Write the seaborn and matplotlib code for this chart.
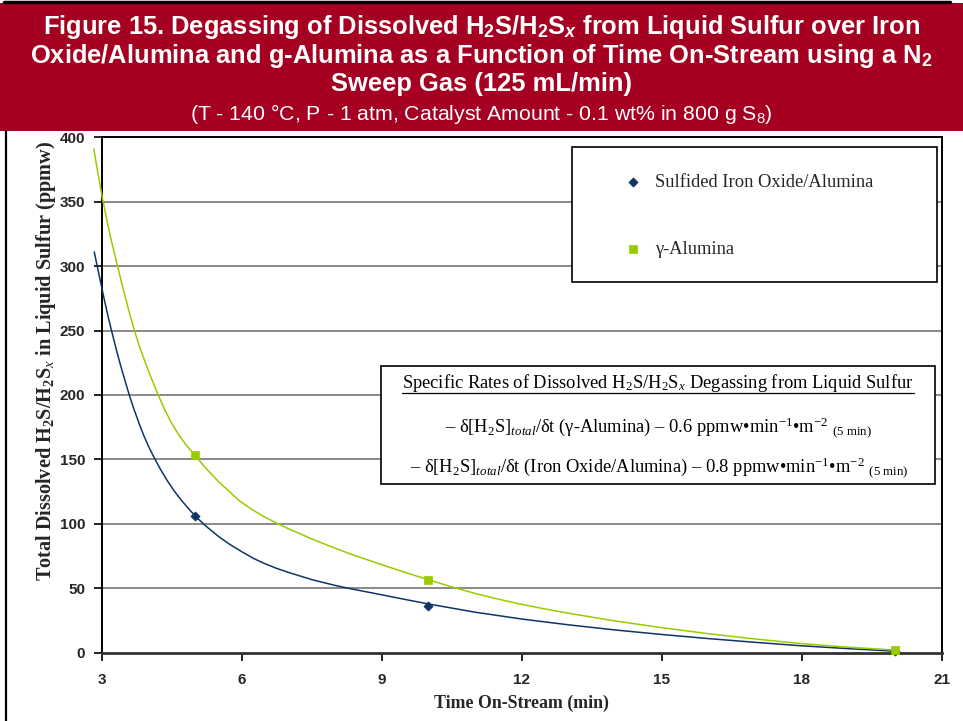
import matplotlib
matplotlib.use("Agg")
import matplotlib.pyplot as plt
import seaborn as sns
import pandas as pd
import numpy as np
from matplotlib.patches import Rectangle
from matplotlib.lines import Line2D

# ---------------- data ----------------
time_min = [5, 10, 20]
iron_ppmw = [106, 36, 1]
gamma_ppmw = [153, 56, 2]

# trend curves
gamma_curve_x = [2.83, 2.92, 3.02, 3.1, 3.2, 3.34, 3.45, 3.57, 3.70, 3.82, 3.95, 4.08, 4.21,
                 4.35, 4.5, 4.65, 4.8, 5.0, 5.25, 5.5, 5.75, 5.96, 6.2, 6.45, 6.69, 7.0,
                 7.5, 8.0, 8.32, 9.0, 9.5, 10.0, 10.57, 11.0, 11.5, 11.96, 12.5, 13.0,
                 14.0, 15.0, 16.0, 17.0, 18.0, 19.0, 20.0]
gamma_curve_y = [391, 372, 352, 337.6, 320.8, 300, 283.7, 266.9, 250, 236.5, 223.5, 211.5, 200,
                 188.5, 178, 169, 161.5, 153, 142.3, 132.8, 124.5, 117.5, 111.5, 106, 101.5, 96.1,
                 88.2, 81, 76.6, 68.2, 62.2, 56.5, 50.2, 45.9, 41.4, 37.7, 33.8, 30.5,
                 24.5, 19.3, 14.6, 10.5, 6.9, 4.1, 1.9]
iron_curve_x = [2.84, 2.95, 3.05, 3.13, 3.21, 3.3, 3.4, 3.5, 3.59, 3.7, 3.8, 3.9, 4.0, 4.1,
                4.25, 4.4, 4.55, 4.7, 4.85, 5.0, 5.25, 5.5, 5.75, 6.0, 6.25, 6.5, 6.75, 7.0,
                7.5, 8.0, 8.32, 9.0, 9.5, 10.0, 11.0, 12.0, 13.0, 14.0, 15.0, 16.0, 17.0,
                18.0, 19.0, 20.0]
iron_curve_y = [311, 292, 275, 262, 250, 237, 223.5, 211, 200, 188, 178, 168.6, 160.3, 153,
                142.8, 133.7, 125.6, 118.5, 112.2, 106, 97.6, 90.2, 83.8, 78.3, 73.1, 68.9, 65.3, 62.2,
                56.6, 52.1, 49.6, 44.8, 41.2, 37.7, 31.3, 26, 21.5, 17.5, 14, 10.8, 7.9,
                5.2, 3.0, 1.0]

x_ticks = [3, 6, 9, 12, 15, 18, 21]
y_ticks = [0, 50, 100, 150, 200, 250, 300, 350, 400]

labels = ["Sulfided Iron Oxide/Alumina", "\u03b3-Alumina"]

NAVY = "#0F3466"
GREEN = "#99CC00"
RED = "#A50021"

# ---------------- style ----------------
sns.set_theme(style="white")
plt.rcParams.update({
    "font.family": ["Liberation Sans", "DejaVu Sans"],
    "mathtext.fontset": "custom",
    "mathtext.rm": "Liberation Serif",
    "mathtext.it": "Liberation Serif:italic",
    "mathtext.bf": "Liberation Sans:bold",
    "mathtext.bfit": "Liberation Sans:italic:bold",
    "mathtext.sf": "Liberation Sans",
    "mathtext.cal": "Liberation Serif:bold",
})

W, H = 963, 721
fig = plt.figure(figsize=(W / 100, H / 100), dpi=100)
fig.patch.set_facecolor("white")


def fx(px):
    return px / W


def fy(py):
    return 1 - py / H


# outer chart frame + title band
fig.add_artist(Line2D([fx(6), fx(6)], [fy(131), fy(721)], color="black", lw=1.6,
                      transform=fig.transFigure))
fig.add_artist(Rectangle((0, fy(131)), 1, fy(3) - fy(131), transform=fig.transFigure,
                         facecolor=RED, edgecolor="none", zorder=0))
fig.add_artist(Line2D([fx(4), fx(950)], [fy(2), fy(2)], color="black", lw=2.5,
                      transform=fig.transFigure))

title_kw = dict(ha="center", va="center", color="white", fontsize=18.4,
                fontweight="bold", family="Liberation Sans")
fig.text(0.5, fy(27), r"Figure 15. Degassing of Dissolved H$_\mathbf{2}$S/H$_\mathbf{2}$S$_\mathbfit{x}$ from Liquid Sulfur over Iron", **title_kw)
fig.text(0.5, fy(56), r"Oxide/Alumina and g-Alumina as a Function of Time On-Stream using a N$_\mathbf{2}$", **title_kw)
fig.text(0.5, fy(84), "Sweep Gas (125 mL/min)", **title_kw)
fig.text(0.5, fy(114), r"(T - 140 °C, P - 1 atm, Catalyst Amount - 0.1 wt% in 800 g S$_\mathsf{8}$)",
         ha="center", va="center", color="white", fontsize=15.3, family="Liberation Sans")

# ---------------- axes ----------------
ax = fig.add_axes([fx(101.7), fy(652.5), (941.7 - 101.7) / W, (652.5 - 137.3) / H])
ax.set_facecolor("white")

for yv in y_ticks[1:-1]:
    ax.axhline(yv, color="#808080", lw=1.3, zorder=1)

sns.lineplot(x=iron_curve_x, y=iron_curve_y, ax=ax, color=NAVY, lw=1.1,
             sort=False, estimator=None, zorder=3)
sns.lineplot(x=gamma_curve_x, y=gamma_curve_y, ax=ax, color=GREEN, lw=1.1,
             sort=False, estimator=None, zorder=3)
for ln in ax.lines:
    ln.set_clip_on(False)

sns.scatterplot(x=time_min, y=iron_ppmw, ax=ax, marker="D", s=22, color=NAVY,
                edgecolor=NAVY, linewidth=0.5, label=labels[0], zorder=5, clip_on=False)
sns.scatterplot(x=time_min, y=gamma_ppmw, ax=ax, marker="s", s=30, color=GREEN,
                edgecolor=GREEN, linewidth=0.5, label=labels[1], zorder=6, clip_on=False)

ax.set_xlim(3, 21)
ax.set_ylim(0, 400)
ax.set_xticks(x_ticks)
ax.set_yticks(y_ticks)
ax.tick_params(axis="both", which="major", direction="out", length=6, width=1.2,
               color="black", labelsize=11, bottom=True, left=True)
ax.tick_params(axis="x", pad=9)
ax.tick_params(axis="y", pad=6)
for lab in ax.get_xticklabels() + ax.get_yticklabels():
    lab.set_fontweight("bold")

for s in ["top", "right", "left"]:
    ax.spines[s].set_color("black")
    ax.spines[s].set_linewidth(1.4)
ax.spines["bottom"].set_color("#333333")
ax.spines["bottom"].set_linewidth(2.0)

ax.set_xlabel("Time On-Stream (min)", fontsize=12.9, fontweight="bold",
              family="Liberation Serif", labelpad=5)
ax.set_ylabel(r"Total Dissolved H$_\mathcal{2}$S/H$_\mathcal{2}$S$_\mathit{x}$ in Liquid Sulfur (ppmw)",
              fontsize=14.6, fontweight="bold", family="Liberation Serif")
ax.yaxis.set_label_coords(fx(44) - fx(101.7), 0.56, transform=None)
ax.yaxis.label.set_transform(fig.transFigure)
ax.yaxis.label.set_position((fx(46), fy(361)))
ax.yaxis.label.set_va("center")

# legend
handles, _ = ax.get_legend_handles_labels()
leg = ax.legend(handles, labels, loc="upper left",
                bbox_to_anchor=(fx(624), fy(174)), bbox_transform=fig.transFigure,
                frameon=False, handlelength=1.0, handletextpad=0.68, labelspacing=2.72,
                borderpad=0, borderaxespad=0,
                prop={"family": "Liberation Serif", "size": 13.3})
leg.set_zorder(10)
frame = Rectangle((fx(572), fy(282)), fx(937) - fx(572), fy(147) - fy(282),
                  transform=fig.transFigure, facecolor="white", edgecolor="black",
                  lw=1.2, zorder=8, clip_on=False)
ax.add_patch(frame)

# rates text box
box = Rectangle((fx(381), fy(484)), fx(935) - fx(381), fy(366) - fy(484),
                transform=fig.transFigure, facecolor="white", edgecolor="black",
                lw=1.2, zorder=8, clip_on=False)
ax.add_patch(box)
box_kw = dict(ha="center", va="center", family="Liberation Serif", fontsize=13.3,
              color="black", zorder=11)
t1 = fig.text(fx(658), fy(383), r"Specific Rates of Dissolved H$_2$S/H$_2$S$_x$ Degassing from Liquid Sulfur", **box_kw)
fig.text(fx(659), fy(428), "\u2013 \u03b4[H$_2$S]$_{total}$/\u03b4t (\u03b3-Alumina) \u2013 0.6 ppmw\u2022min$^{-1}$\u2022m$^{-2}$ $_{\\rm (5\\ min)}$", **box_kw)
fig.text(fx(659), fy(468), "\u2013 \u03b4[H$_2$S]$_{total}$/\u03b4t (Iron Oxide/Alumina) \u2013 0.8 ppmw\u2022min$^{-1}$\u2022m$^{-2}$ $_{\\rm (5\\ min)}$", **box_kw)

fig.canvas.draw()
bb = t1.get_window_extent(fig.canvas.get_renderer())
fig.add_artist(Line2D([bb.x0 / W, bb.x1 / W], [fy(392.5), fy(392.5)], color="black", lw=0.9,
                      transform=fig.transFigure, zorder=11))

fig.savefig("out.png", dpi=100)
